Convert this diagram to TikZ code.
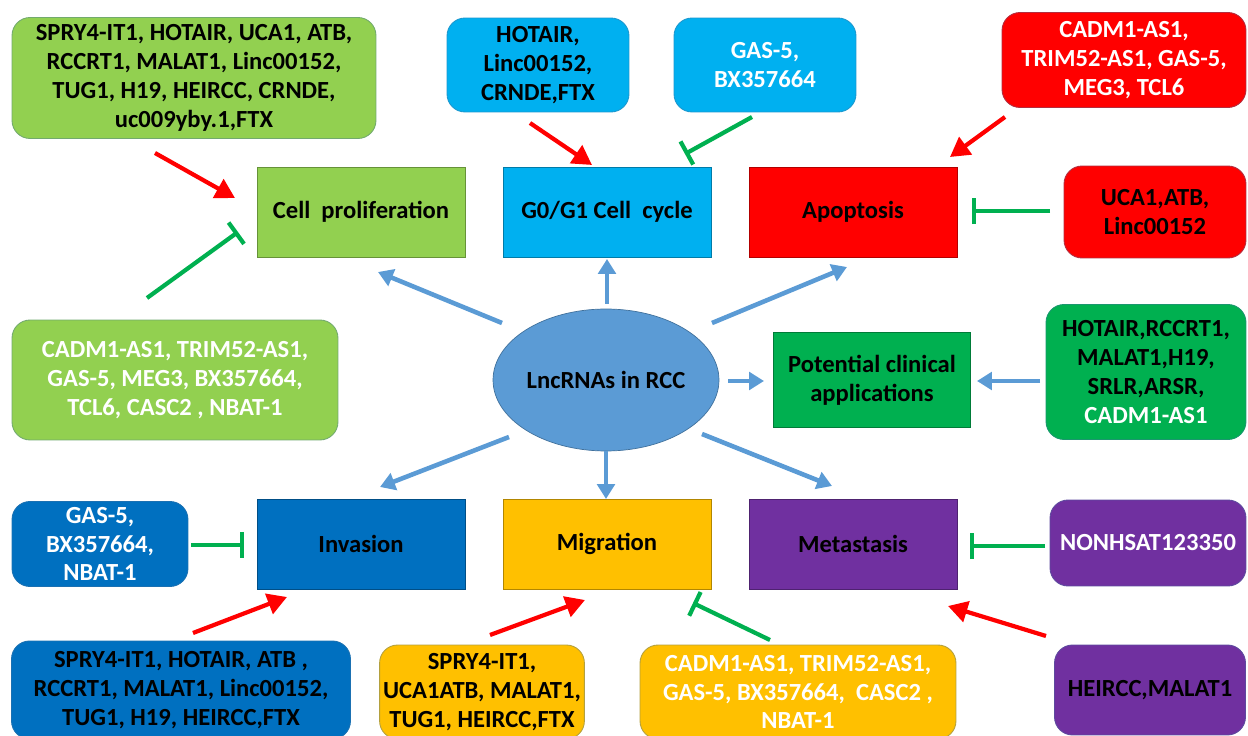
\documentclass[tikz,border=0pt]{standalone}
\usepackage{fontspec}
\setmainfont{Carlito}
\usepackage{xcolor}
\usepackage{tikz}
\usetikzlibrary{arrows.meta,shapes.geometric}
\definecolor{lgreen}{HTML}{92D050}
\definecolor{sky}{HTML}{00B0F0}
\definecolor{rred}{HTML}{FF0000}
\definecolor{dgreen}{HTML}{00B050}
\definecolor{dblue}{HTML}{0070C0}
\definecolor{amber}{HTML}{FFC000}
\definecolor{purp}{HTML}{7030A0}
\definecolor{steel}{HTML}{5B9BD5}
\definecolor{rim}{HTML}{41719C}
\newcommand{\genefont}{\bfseries\fontsize{14}{16.4}\selectfont}
\tikzset{
  hub/.style={ellipse, fill=steel, draw=rim, line width=0.4pt, inner sep=0pt, minimum width=4.52cm, minimum height=2.84cm, font=\genefont},
  proc/.style={rectangle, fill=#1, draw=#1!70!black, line width=0.5pt, minimum width=4.16cm, minimum height=1.8cm, font=\genefont, align=center},
  gene/.style={rectangle, rounded corners=0.36cm, fill=#1, draw=#1!60!rim, line width=0.5pt, font=\genefont, align=center, inner sep=2pt},
  up/.style={draw=rred, line width=2.4pt, -{Triangle[length=11pt,width=12pt]}},
  down/.style={draw=dgreen, line width=2.4pt, -{Bar[width=15pt]}},
  link/.style={draw=steel, line width=2.6pt, -{Triangle[length=8.5pt,width=10pt]}}
}

\begin{document}
\begin{tikzpicture}[x=0.02cm, y=-0.02cm]
\useasboundingbox (0,0) rectangle (1248,736);
\clip (0,0) rectangle (1248,736);
% centre
\node[hub] (lnc) at (606,380) {LncRNAs in RCC};
\node[proc=lgreen] (prolif) at (361,212) {Cell\ \ proliferation};
\node[proc=sky] (cycle) at (607,212) {G0/G1 Cell\ \ cycle};
\node[proc=rred] (apop) at (853,212) {Apoptosis};
\node[proc=dgreen, minimum width=3.94cm, minimum height=1.9cm] (clin) at (872,380) {Potential clinical\\applications};
\node[proc=dblue] (inv) at (361,544) {Invasion};
\node[proc=amber] (mig) at (607,544) {Migration};
\node[proc=purp] (meta) at (853,544) {Metastasis};
% gene lists
\node[gene=lgreen, minimum width=7.28cm, minimum height=2.42cm] (prolifA) at (194,78)
  {SPRY4-IT1, HOTAIR, UCA1, ATB,\\RCCRT1, MALAT1, Linc00152,\\TUG1, H19, HEIRCC, CRNDE,\\uc009yby.1,FTX};
\node[gene=lgreen, minimum width=6.52cm, minimum height=2.4cm, text=white] (prolifB) at (175,380)
  {CADM1-AS1, TRIM52-AS1,\\GAS-5, MEG3, BX357664,\\TCL6, CASC2 , NBAT-1};
\node[gene=sky, minimum width=3.64cm, minimum height=1.88cm] (cycleA) at (538,65)
  {HOTAIR,\\Linc00152,\\CRNDE,FTX};
\node[gene=sky, minimum width=3.64cm, minimum height=1.88cm, text=white] (cycleB) at (765,65)
  {GAS-5,\\BX357664};
\node[gene=rred, minimum width=4.88cm, minimum height=1.9cm, text=white] (apopA) at (1124,60)
  {CADM1-AS1,\\TRIM52-AS1, GAS-5,\\MEG3, TCL6};
\node[gene=rred, minimum width=3.64cm, minimum height=1.84cm] (apopB) at (1155,212)
  {UCA1,ATB,\\Linc00152};
\node[gene=dgreen, minimum width=4.0cm, minimum height=2.7cm] (clinA) at (1146,372)
  {HOTAIR,RCCRT1,\\MALAT1,H19,\\SRLR,ARSR,\\\textcolor{white}{CADM1-AS1}};
\node[gene=dblue, minimum width=3.52cm, minimum height=1.7cm, text=white] (invA) at (100,544)
  {GAS-5,\\BX357664,\\NBAT-1};
\node[gene=dblue, minimum width=6.78cm, minimum height=1.96cm] (invB) at (181,690)
  {SPRY4-IT1, HOTAIR, ATB ,\\RCCRT1, MALAT1, Linc00152,\\TUG1, H19, HEIRCC,FTX};
\node[gene=amber, minimum width=4.08cm, minimum height=1.88cm] (migA) at (482,692)
  {SPRY4-IT1,\\UCA1ATB, MALAT1,\\TUG1, HEIRCC,FTX};
\node[gene=amber, minimum width=6.32cm, minimum height=1.88cm, text=white] (migB) at (798,692)
  {CADM1-AS1, TRIM52-AS1,\\GAS-5, BX357664,\ \ CASC2 ,\\NBAT-1};
\node[gene=purp, minimum width=3.92cm, minimum height=1.72cm, text=white] (metaA) at (1148,543)
  {NONHSAT123350};
\node[gene=purp, minimum width=3.82cm, minimum height=1.8cm] (metaB) at (1150,690)
  {HEIRCC,MALAT1};
% arrow ends
\coordinate (l1) at (502,323); \coordinate (l1e) at (378,272);
\coordinate (l2) at (607,304); \coordinate (l2e) at (607,259);
\coordinate (l3) at (712,323); \coordinate (l3e) at (847,267);
\coordinate (l4) at (728,381); \coordinate (l4e) at (764,381);
\coordinate (l5) at (1040,381); \coordinate (l5e) at (977,381);
\coordinate (l6) at (509,437); \coordinate (l6e) at (380,487);
\coordinate (l7) at (606,451); \coordinate (l7e) at (606,499);
\coordinate (l8) at (702,434); \coordinate (l8e) at (832,486);
\coordinate (r1) at (155,153); \coordinate (r1e) at (235,198);
\coordinate (r2) at (530,123); \coordinate (r2e) at (592,165);
\coordinate (r3) at (1005,117); \coordinate (r3e) at (950,157);
\coordinate (r4) at (193,633); \coordinate (r4e) at (287,597);
\coordinate (r5) at (490,635); \coordinate (r5e) at (585,600);
\coordinate (r6) at (1046,636); \coordinate (r6e) at (948,606);
\coordinate (g1) at (147,298); \coordinate (g1e) at (238,232);
\coordinate (g2) at (752,117); \coordinate (g2e) at (685,154);
\coordinate (g3) at (1050,211); \coordinate (g3e) at (972,211);
\coordinate (g4) at (191,545); \coordinate (g4e) at (244,545);
\coordinate (g5) at (770,640); \coordinate (g5e) at (693,603);
\coordinate (g6) at (1045,546); \coordinate (g6e) at (970,546);
% blue
\draw[link] (l1) -- (l1e);
\draw[link] (l2) -- (l2e);
\draw[link] (l3) -- (l3e);
\draw[link] (l4) -- (l4e);
\draw[link] (l5) -- (l5e);
\draw[link] (l6) -- (l6e);
\draw[link] (l7) -- (l7e);
\draw[link] (l8) -- (l8e);
% red
\draw[up] (r1) -- (r1e);
\draw[up] (r2) -- (r2e);
\draw[up] (r3) -- (r3e);
\draw[up] (r4) -- (r4e);
\draw[up] (r5) -- (r5e);
\draw[up] (r6) -- (r6e);
% green
\draw[down] (g1) -- (g1e);
\draw[down] (g2) -- (g2e);
\draw[down] (g3) -- (g3e);
\draw[down] (g4) -- (g4e);
\draw[down] (g5) -- (g5e);
\draw[down] (g6) -- (g6e);
\end{tikzpicture}
\end{document}
